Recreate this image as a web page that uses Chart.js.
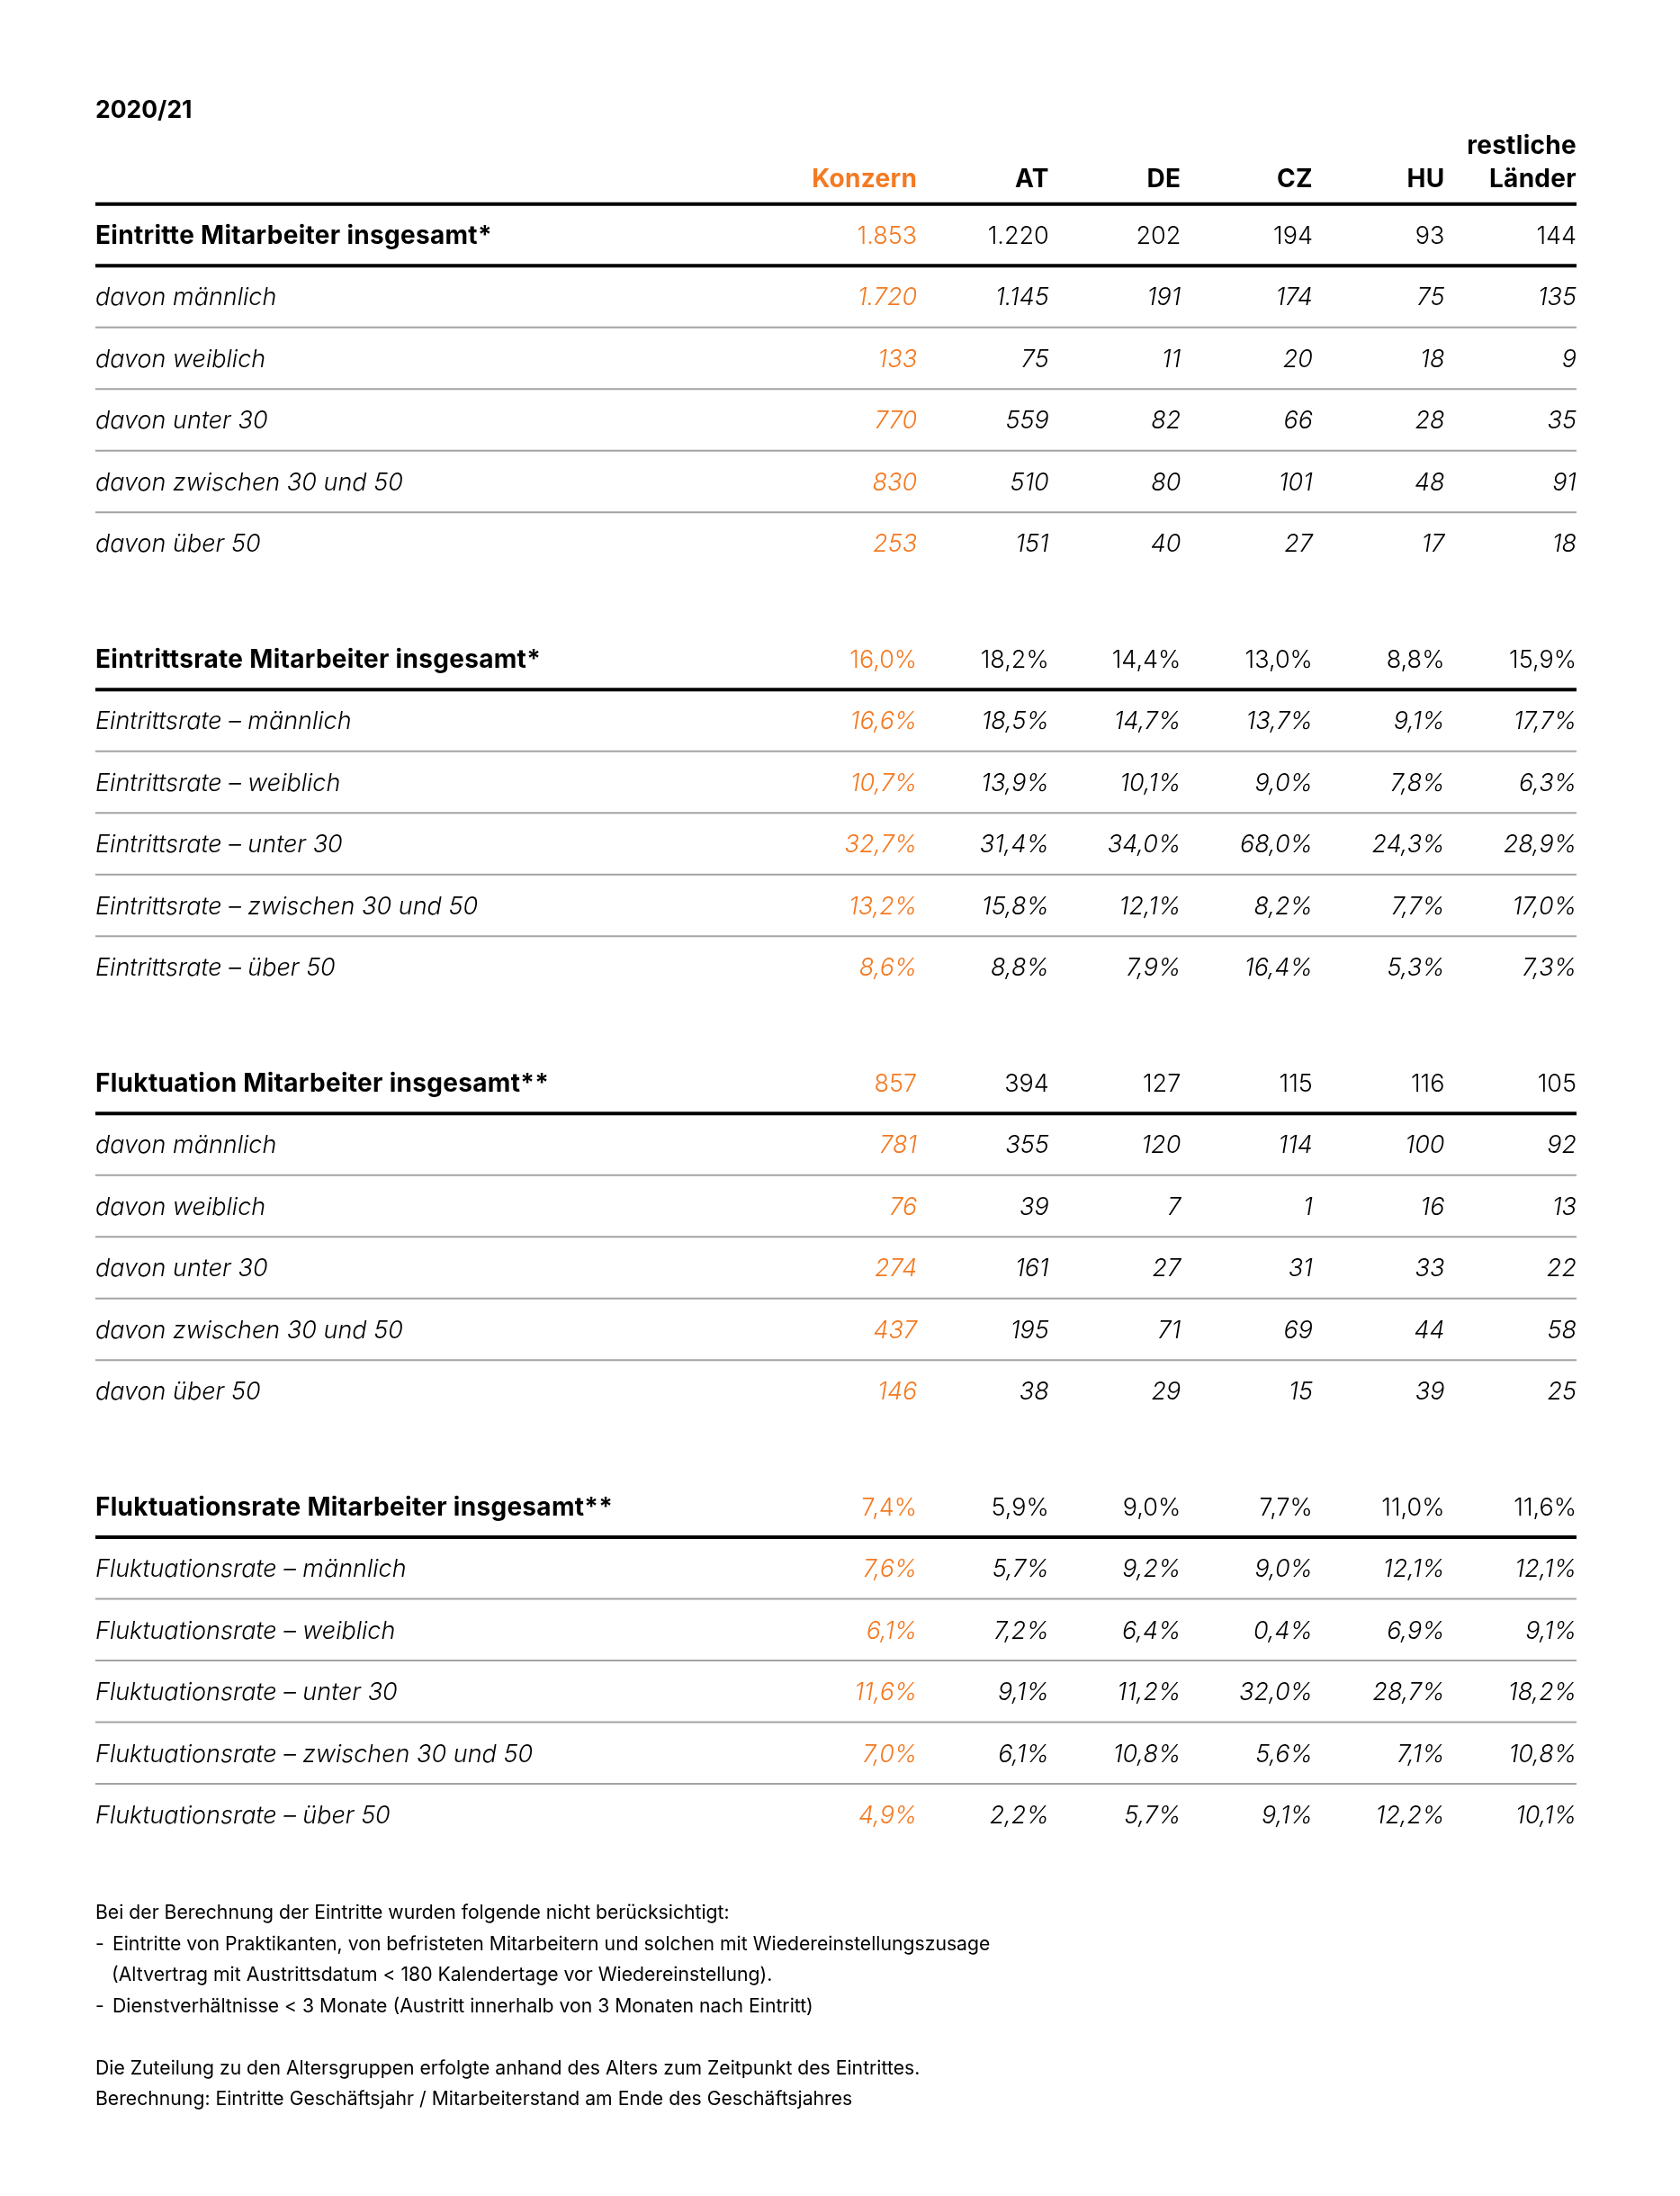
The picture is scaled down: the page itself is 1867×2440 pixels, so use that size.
<!DOCTYPE html>
<html>
<head>
<meta charset="utf-8">
<script src="https://cdn.jsdelivr.net/npm/chart.js"></script>
<style>
  html, body { margin: 0; background: #fff; }
  #wrap { position: relative; width: 1867px; height: 2440px; }
</style>
</head>
<body>
<div id="wrap"><canvas id="tbl" width="1867" height="2440"></canvas></div>
<script>
var title = '2020/21';
var columns = ['Konzern', 'AT', 'DE', 'CZ', 'HU', 'restliche Länder'];

var sectionTitles = [
  'Eintritte Mitarbeiter insgesamt*',
  'Eintrittsrate Mitarbeiter insgesamt*',
  'Fluktuation Mitarbeiter insgesamt**',
  'Fluktuationsrate Mitarbeiter insgesamt**'
];
var sectionIsRate = [false, true, false, true];

var countLabels = ['davon männlich', 'davon weiblich', 'davon unter 30', 'davon zwischen 30 und 50', 'davon über 50'];
var eintrittRateLabels = ['Eintrittsrate – männlich', 'Eintrittsrate – weiblich', 'Eintrittsrate – unter 30', 'Eintrittsrate – zwischen 30 und 50', 'Eintrittsrate – über 50'];
var fluktRateLabels = ['Fluktuationsrate – männlich', 'Fluktuationsrate – weiblich', 'Fluktuationsrate – unter 30', 'Fluktuationsrate – zwischen 30 und 50', 'Fluktuationsrate – über 50'];

// values per row: Konzern, AT, DE, CZ, HU, restliche Länder
var eintritte = [
  [1853, 1220, 202, 194, 93, 144],
  [1720, 1145, 191, 174, 75, 135],
  [133, 75, 11, 20, 18, 9],
  [770, 559, 82, 66, 28, 35],
  [830, 510, 80, 101, 48, 91],
  [253, 151, 40, 27, 17, 18]
];
var eintrittsrate = [
  [16.0, 18.2, 14.4, 13.0, 8.8, 15.9],
  [16.6, 18.5, 14.7, 13.7, 9.1, 17.7],
  [10.7, 13.9, 10.1, 9.0, 7.8, 6.3],
  [32.7, 31.4, 34.0, 68.0, 24.3, 28.9],
  [13.2, 15.8, 12.1, 8.2, 7.7, 17.0],
  [8.6, 8.8, 7.9, 16.4, 5.3, 7.3]
];
var fluktuation = [
  [857, 394, 127, 115, 116, 105],
  [781, 355, 120, 114, 100, 92],
  [76, 39, 7, 1, 16, 13],
  [274, 161, 27, 31, 33, 22],
  [437, 195, 71, 69, 44, 58],
  [146, 38, 29, 15, 39, 25]
];
var fluktuationsrate = [
  [7.4, 5.9, 9.0, 7.7, 11.0, 11.6],
  [7.6, 5.7, 9.2, 9.0, 12.1, 12.1],
  [6.1, 7.2, 6.4, 0.4, 6.9, 9.1],
  [11.6, 9.1, 11.2, 32.0, 28.7, 18.2],
  [7.0, 6.1, 10.8, 5.6, 7.1, 10.8],
  [4.9, 2.2, 5.7, 9.1, 12.2, 10.1]
];

var footnotes = [
  'Bei der Berechnung der Eintritte wurden folgende nicht berücksichtigt:',
  '- Eintritte von Praktikanten, von befristeten Mitarbeitern und solchen mit Wiedereinstellungszusage',
  '  (Altvertrag mit Austrittsdatum < 180 Kalendertage vor Wiedereinstellung).',
  '- Dienstverhältnisse < 3 Monate (Austritt innerhalb von 3 Monaten nach Eintritt)',
  '',
  'Die Zuteilung zu den Altersgruppen erfolgte anhand des Alters zum Zeitpunkt des Eintrittes.',
  'Berechnung: Eintritte Geschäftsjahr / Mitarbeiterstand am Ende des Geschäftsjahres'
];

var sections = [eintritte, eintrittsrate, fluktuation, fluktuationsrate];
var sectionLabels = [countLabels, eintrittRateLabels, countLabels, fluktRateLabels];

var ORANGE = '#f47a22';
var SIZE = 27;
var FAM = 'Inter, "Liberation Sans", sans-serif';
var TITLE = '700 26.5px ' + FAM;
var BOLD = '700 28px ' + FAM;
var LIGHT = '300 ' + SIZE + 'px ' + FAM;
var LIGHT_IT = 'italic 300 ' + SIZE + 'px ' + FAM;
var NOTE = '400 21.2px ' + FAM;

// layout in scale units: one unit = one table row, one column step = one x unit
var FIRST_COL = 6.23, X_MAX = 11.23;
var SECTION_STEP = 6.875;

function fmtCount(v) { return String(v).replace(/\B(?=(\d{3})+(?!\d))/g, '.'); }
function fmtRate(v) { return v.toFixed(1).replace('.', ',') + '%'; }

function rule(y, width, color) {
  return {
    type: 'line', data: [{ x: 0, y: y }, { x: X_MAX, y: y }],
    borderColor: color, borderWidth: width, pointRadius: 0, fill: false
  };
}

var datasets = [];
datasets.push(rule(-0.5, 4, '#000'));
sections.forEach(function (rows, s) {
  var top = s * SECTION_STEP;
  datasets.push(rule(top + 0.5, 4, '#000'));
  for (var r = 1; r < 5; r++) datasets.push(rule(top + r + 0.5, 2, '#a3a3a3'));
  rows.forEach(function (vals, r) {
    datasets.push({
      type: 'scatter',
      data: vals.map(function (v, c) { return { x: FIRST_COL + c, y: top + r }; }),
      pointRadius: 0,
      cells: vals.map(sectionIsRate[s] ? fmtRate : fmtCount),
      rowLabel: r === 0 ? sectionTitles[s] : sectionLabels[s][r - 1],
      bold: r === 0
    });
  });
});

var textPlugin = {
  id: 'tableText',
  afterDatasetsDraw: function (chart) {
    var ctx = chart.ctx, xs = chart.scales.x, ys = chart.scales.y;
    function put(txt, x, y, font, color, align) {
      ctx.font = font;
      ctx.fillStyle = color;
      ctx.textAlign = align;
      ctx.textBaseline = 'alphabetic';
      ctx.letterSpacing = font === BOLD ? '0.3px' : '0px';
      ctx.fillText(txt, x, y + SIZE * 0.36);
    }
    ctx.save();
    var left = xs.getPixelForValue(0);
    put(title, left, ys.getPixelForValue(-2.04), TITLE, '#000', 'left');
    columns.forEach(function (c, i) {
      var x = xs.getPixelForValue(FIRST_COL + i);
      var col = i === 0 ? ORANGE : '#000';
      var parts = c.split(' ');
      if (parts.length > 1) {
        put(parts[0], x, ys.getPixelForValue(-1.46), BOLD, col, 'right');
        put(parts[1], x, ys.getPixelForValue(-0.92), BOLD, col, 'right');
      } else {
        put(c, x, ys.getPixelForValue(-0.92), BOLD, col, 'right');
      }
    });
    chart.data.datasets.forEach(function (ds, i) {
      if (!ds.cells) return;
      var pts = chart.getDatasetMeta(i).data;
      put(ds.rowLabel, left, pts[0].y, ds.bold ? BOLD : LIGHT_IT, '#000', 'left');
      pts.forEach(function (p, c) {
        put(ds.cells[c], p.x, p.y, ds.bold ? LIGHT : LIGHT_IT, c === 0 ? ORANGE : '#000', 'right');
      });
    });
    ctx.font = NOTE;
    ctx.letterSpacing = '0px';
    ctx.fillStyle = '#000';
    ctx.textAlign = 'left';
    footnotes.forEach(function (t, i) {
      if (!t) return;
      var y = ys.getPixelForValue(27.21 + i * 0.503) + 21 * 0.36;
      if (t.charAt(0) === '-') {
        ctx.fillText('-', left, y);
        ctx.fillText(t.slice(2), left + 19, y);
      } else if (t.charAt(0) === ' ') {
        ctx.fillText(t.trim(), left + 18, y);
      } else {
        ctx.fillText(t, left, y);
      }
    });
    ctx.restore();
  }
};

function draw() {
  new Chart(document.getElementById('tbl'), {
    type: 'scatter',
    data: { datasets: datasets },
    options: {
      responsive: false,
      animation: false,
      events: [],
      layout: { padding: { left: 106, right: 115, top: 55.5, bottom: 55.5 } },
      plugins: { legend: { display: false }, tooltip: { enabled: false } },
      scales: {
        x: { type: 'linear', display: false, min: 0, max: X_MAX },
        y: { type: 'linear', display: false, reverse: true, min: -3, max: 31 }
      }
    },
    plugins: [textPlugin]
  });
}

Promise.all([TITLE, BOLD, LIGHT, LIGHT_IT, NOTE].map(function (f) { return document.fonts.load(f); }))
  .then(draw, draw);
</script>
</body>
</html>
